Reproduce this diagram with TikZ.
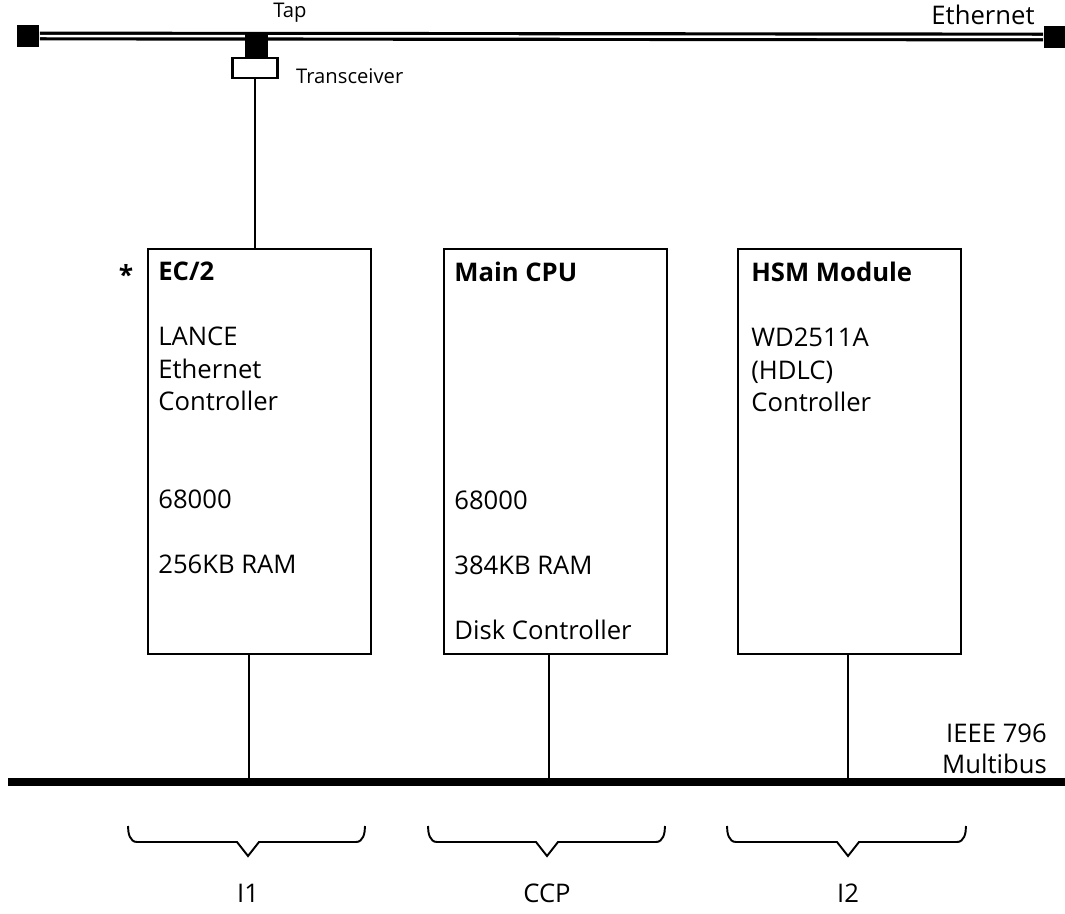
\documentclass[tikz,border=0pt]{standalone}
\usepackage{fontspec}
\setmainfont{Open Sans}
\usetikzlibrary{positioning}

\begin{document}
\begin{tikzpicture}[
  x=0.02cm, y=-0.02cm,
  board/.style={draw, line width=1.2pt, anchor=north west, inner sep=0pt,
    minimum width=4.46cm, minimum height=8.1cm},
  boardtext/.style={anchor=north west, align=left, inner sep=0pt,
    font=\fontsize{14.6}{18.5}\selectfont},
  wire/.style={line width=1.2pt},
  etherline/.style={draw, line width=1.8pt, double=white, double distance=1.4pt},
  busline/.style={line width=4.6pt},
  termblock/.style={fill=black, inner sep=0pt, minimum width=0.46cm, minimum height=0.44cm},
  tapblock/.style={fill=black, inner sep=0pt, minimum width=0.46cm, minimum height=0.52cm},
  xcvrbox/.style={draw, fill=white, line width=1.2pt, inner sep=0pt,
    minimum width=0.9cm, minimum height=0.4cm},
  smalllabel/.style={font=\fontsize{11.5}{13}\selectfont},
  biglabel/.style={font=\fontsize{14.6}{17.5}\selectfont, align=right},
  groupbrace/.style={line width=1.1pt}
]
  \useasboundingbox (0,0) rectangle (1065,913);

  %% --- Ethernet cable, tap and transceiver ---
  \node[termblock] (termL) at (28,36) {};
  \node[termblock] (termR) at (1055,37) {};
  \draw[etherline] (termL) -- (termR);
  \node[tapblock] (tap) at (256.5,45) {};
  \node[xcvrbox] (xcvr) at (255,68) {};
  \node[smalllabel] (taplbl) at (290,13) {Tap};
  \node[smalllabel, anchor=west] (xcvrlbl) at (290,76) {Transceiver};
  \node[biglabel] (etherlbl) at (983,15) {Ethernet};

  %% --- the three boards ---
  \node[board] (ec2) at (147,248) {};
  \node[board] (cpu) at (443,248) {};
  \node[board] (hsm) at (737,248) {};

  \node[boardtext] (ec2txt) at (158,262)
    {\textbf{EC/2}\\[18.5pt] LANCE\\ Ethernet\\ Controller\\[37pt]
     68000\\[18.5pt] 256KB RAM};
  \node[boardtext] (cputxt) at (454,262)
    {\textbf{Main CPU}\\[111pt] 68000\\[18.5pt] 384KB RAM\\[18.5pt]
     Disk Controller};
  \node[boardtext] (hsmtxt) at (751,262)
    {\textbf{HSM Module}\\[18.5pt] WD2511A\\ (HDLC)\\ Controller};
  \node[font=\fontsize{15}{17}\selectfont\bfseries] (star) at (126,274) {*};

  \draw[wire] (xcvr.south) -- (xcvr.south |- ec2.north);

  %% --- IEEE 796 Multibus ---
  \coordinate (busL) at (8,782);
  \coordinate (busR) at (1065,782);
  \draw[busline] (busL) -- (busR);
  \node[biglabel, anchor=east] (buslbl) at (1053,749) {IEEE 796\\ Multibus};

  \coordinate (drop1) at (249,782);
  \coordinate (drop2) at (549,782);
  \coordinate (drop3) at (848,782);
  \draw[wire] (drop1 |- ec2.south) -- (drop1);
  \draw[wire] (drop2 |- cpu.south) -- (drop2);
  \draw[wire] (drop3 |- hsm.south) -- (drop3);

  %% --- braces and group names ---
  \foreach \xa/\xc/\xb/\lab in {128/248/365/I1, 428/547/665/CCP, 727/848/966/I2} {
    \draw[groupbrace] (\xa,826) to[out=-90, in=180] ({\xa+9},842)
      -- ({\xc-11},842) -- (\xc,856) -- ({\xc+11},842)
      -- ({\xb-9},842) to[out=0, in=-90] (\xb,826);
    \node[biglabel] (grp\lab) at (\xc,893) {\lab};
  }
\end{tikzpicture}
\end{document}
